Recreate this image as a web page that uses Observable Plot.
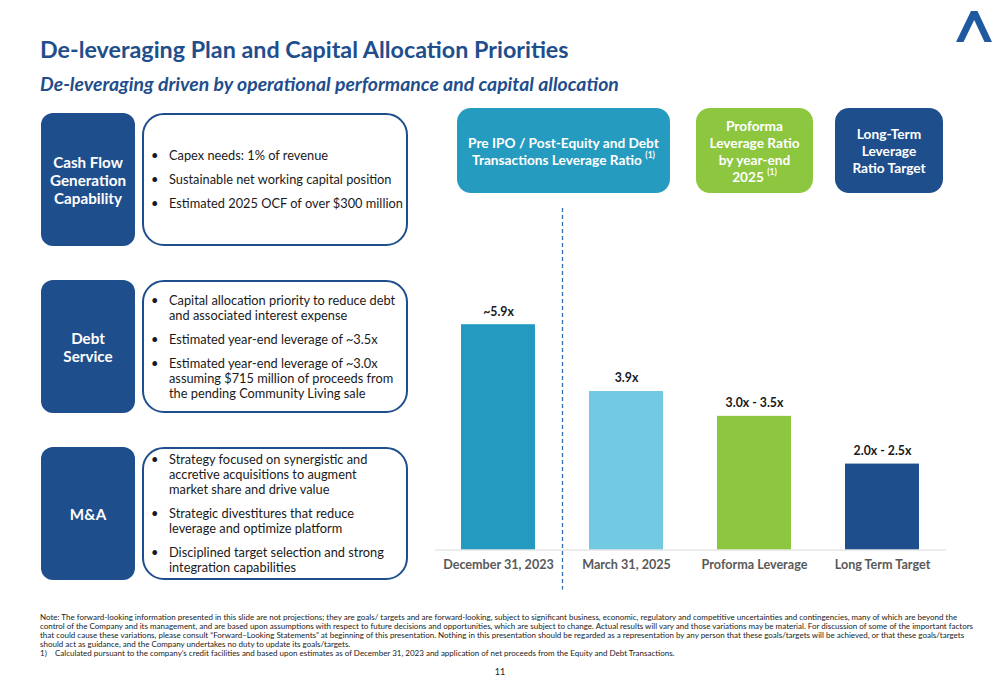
<!DOCTYPE html>
<html>
<head>
<meta charset="utf-8">
<script src="https://cdn.jsdelivr.net/npm/d3@7"></script>
<script src="https://cdn.jsdelivr.net/npm/@observablehq/plot@0.6"></script>
<style>
  html, body { margin: 0; padding: 0; background: #fff; }
  #page { position: relative; width: 1000px; height: 685px; overflow: hidden; font-family: Lato, "Open Sans", sans-serif; color: #1a1a1a; }
  .abs { position: absolute; }
  #title { left: 40px; top: 35px; font-size: 23.3px; font-weight: 700; color: #1F4E8C; white-space: nowrap; }
  #subtitle { left: 40px; top: 72px; font-size: 19.4px; font-weight: 700; font-style: italic; color: #1F4E8C; white-space: nowrap; }
  .dark { background: #1F4E8C; border-radius: 12px; color: #fff; font-weight: 700; font-size: 15.2px; line-height: 18px; display: flex; align-items: center; justify-content: center; text-align: center; box-sizing: border-box; }
  .white { border: 2px solid #1F4E8C; border-radius: 22px; background: #fff; box-sizing: border-box; display: flex; flex-direction: column; justify-content: center; padding-left: 25px; padding-right: 2px; }
  .white ul { margin: 0; padding: 0; list-style: none; }
  .white li { position: relative; font-size: 12.8px; line-height: 15px; margin: 0 0 9px 0; white-space: nowrap; }
  .white li:last-child { margin-bottom: 0; }
  .white li::before { content: "•"; position: absolute; left: -18px; top: 0; }
  .head { border-radius: 14px; color: #fff; font-weight: 700; font-size: 13.7px; line-height: 17px; display: flex; align-items: center; justify-content: center; text-align: center; box-sizing: border-box; }
  .head sup { font-size: 8.5px; position: relative; top: -1px; vertical-align: super; line-height: 0; }
  #foot { left: 40px; top: 613px; font-size: 8px; line-height: 9px; color: #222; white-space: nowrap; }
  #pnum { left: 490px; top: 666px; width: 20px; text-align: center; font-size: 9px; color: #222; }
  #chart { left: 430px; top: 200px; }
</style>
</head>
<body>
<div id="page">
  <svg class="abs" style="left:950px;top:6px" width="46" height="40" viewBox="0 0 46 40">
    <polygon points="21,5 27.5,5 42,36 34.5,36 24.2,14 13.5,36 6,36" fill="#1F5AA0"/>
  </svg>
  <div id="title" class="abs">De-leveraging Plan and Capital Allocation Priorities</div>
  <div id="subtitle" class="abs">De-leveraging driven by operational performance and capital allocation</div>

  <div class="abs dark" style="left:41px;top:113px;width:94px;height:133px"><div>Cash Flow<br>Generation<br>Capability</div></div>
  <div class="abs white" style="left:142px;top:113px;width:266px;height:133px">
    <ul>
      <li>Capex needs: 1% of revenue</li>
      <li>Sustainable net working capital position</li>
      <li>Estimated 2025 OCF of over $300 million</li>
    </ul>
  </div>

  <div class="abs dark" style="left:41px;top:280px;width:94px;height:133px"><div>Debt<br>Service</div></div>
  <div class="abs white" style="left:142px;top:280px;width:266px;height:133px">
    <ul>
      <li>Capital allocation priority to reduce debt<br>and associated interest expense</li>
      <li>Estimated year-end leverage of ~3.5x</li>
      <li>Estimated year-end leverage of ~3.0x<br>assuming $715 million of proceeds from<br>the pending Community Living sale</li>
    </ul>
  </div>

  <div class="abs dark" style="left:41px;top:447px;width:94px;height:133px"><div>M&amp;A</div></div>
  <div class="abs white" style="left:142px;top:447px;width:266px;height:133px">
    <ul>
      <li>Strategy focused on synergistic and<br>accretive acquisitions to augment<br>market share and drive value</li>
      <li>Strategic divestitures that reduce<br>leverage and optimize platform</li>
      <li>Disciplined target selection and strong<br>integration capabilities</li>
    </ul>
  </div>

  <div class="abs head" style="left:457px;top:108px;width:213px;height:85px;background:#259BBF"><div>Pre IPO / Post-Equity and Debt<br>Transactions Leverage Ratio&nbsp;<sup>(1)</sup></div></div>
  <div class="abs head" style="left:696px;top:108px;width:117px;height:85px;background:#8DC63F"><div>Proforma<br>Leverage Ratio<br>by year-end<br>2025&nbsp;<sup>(1)</sup></div></div>
  <div class="abs head" style="left:835px;top:108px;width:108px;height:85px;background:#1F4E8C"><div>Long-Term<br>Leverage<br>Ratio Target</div></div>

  <div id="chart" class="abs"></div>

  <div id="foot" class="abs">
    <div>Note: The forward-looking information presented in this slide are not projections; they are goals/ targets and are forward-looking, subject to significant business, economic, regulatory and competitive uncertainties and contingencies, many of which are beyond the</div>
    <div>control of the Company and its management, and are based upon assumptions with respect to future decisions and opportunities, which are subject to change. Actual results will vary and those variations may be material. For discussion of some of the important factors</div>
    <div>that could cause these variations, please consult “Forward–Looking Statements” at beginning of this presentation. Nothing in this presentation should be regarded as a representation by any person that these goals/targets will be achieved, or that these goals/targets</div>
    <div>should act as guidance, and the Company undertakes no duty to update its goals/targets.</div>
    <div>1)&nbsp;&nbsp;&nbsp;&nbsp;Calculated pursuant to the company’s credit facilities and based upon estimates as of December 31, 2023 and application of net proceeds from the Equity and Debt Transactions.</div>
  </div>
  <div id="pnum" class="abs">11</div>
</div>
<script>
// Data
const categories = ["December 31, 2023", "March 31, 2025", "Proforma Leverage", "Long Term Target"];
const values = [5.9, 4.15, 3.5, 2.25];           // drawn bar heights (x leverage)
const valueLabels = ["~5.9x", "3.9x", "3.0x - 3.5x", "2.0x - 2.5x"];
const barColors = ["#259AC0", "#72C9E2", "#8DC63F", "#1F4E8C"];

const rows = categories.map((c, i) => ({category: c, value: values[i], label: valueLabels[i], color: barColors[i]}));

const chart = Plot.plot({
  width: 520,
  height: 390,
  marginLeft: 5,
  marginRight: 4,
  marginTop: 44,
  marginBottom: 40.5,
  style: {fontFamily: "Lato, 'Open Sans', sans-serif", background: "transparent", overflow: "visible"},
  x: {domain: categories, paddingInner: 0.418, paddingOuter: 0.205, label: null},
  y: {domain: [0, 8], axis: null},
  marks: [
    Plot.barY(rows, {x: "category", y: "value", fill: "color"}),
    Plot.ruleY([0], {stroke: "#d9d9d9", strokeWidth: 1.2}),
    Plot.text(rows, {x: "category", y: "value", text: "label", dy: -13, fontWeight: 700, fontSize: 12.3, fill: "#1a1a1a"}),
    Plot.ruleX([categories[0]], {dx: 64, stroke: "#2E6DB4", strokeWidth: 1.3, strokeDasharray: "4,3", insetTop: -36, insetBottom: -40}),
    Plot.axisX({tickSize: 0, tickPadding: 10, fontSize: 12.6, fontWeight: 700, fill: "#595959", label: null})
  ]
});
document.getElementById("chart").appendChild(chart);
</script>
</body>
</html>
